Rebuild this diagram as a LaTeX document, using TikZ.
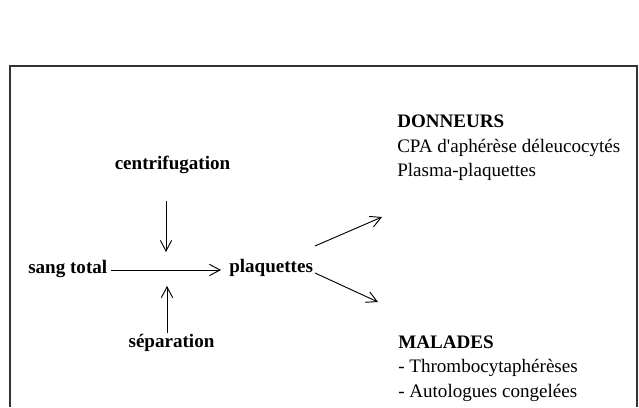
\documentclass[tikz,border=0pt]{standalone}
\usepackage{fontspec}
\setmainfont{Liberation Serif}
\usetikzlibrary{arrows.meta}
\begin{document}
\begin{tikzpicture}[x=0.75pt,y=-0.75pt,
  txt/.style={inner sep=0pt,font=\fontsize{14.3}{17}\selectfont},
  btxt/.style={txt,font=\fontsize{14.3}{17}\selectfont\bfseries},
  arr/.style={-{Straight Barb[length=8pt,width=8.5pt]},line width=0.7pt},
  frame/.style={line width=1.2pt,draw=black!80}]
\useasboundingbox (0,0) rectangle (639,407);
% frame (open at the bottom)
\coordinate (fbl) at (10,407);
\coordinate (ftl) at (10,66);
\coordinate (ftr) at (637,66);
\coordinate (fbr) at (637,407);
\draw[frame] (fbl) -- (ftl) -- (ftr) -- (fbr);
% left part
\node[btxt,anchor=base] (cen) at (172.5,169) {centrifugation};
\node[btxt,anchor=base west] (st) at (28,273) {sang total};
\node[btxt,anchor=base west] (pl) at (229,272) {plaquettes};
\node[btxt,anchor=base] (sep) at (171.5,347) {séparation};
\coordinate (dtop) at (166,201);
\coordinate (dtip) at (166,252);
\coordinate (ubot) at (167,333);
\coordinate (utip) at (167,286);
\draw[arr] (dtop) -- (dtip);
\draw[arr] (ubot) -- (utip);
\draw[arr,shorten <=3pt,shorten >=6pt] (st.east |- 0,270) -- (pl.west |- 0,270);
% diagonal arrows
\coordinate (a1s) at (315,246);
\coordinate (a1e) at (382,217);
\coordinate (a2s) at (315,273);
\coordinate (a2e) at (378,302);
\draw[arr] (a1s) -- (a1e);
\draw[arr] (a2s) -- (a2e);
% right part
\node[btxt,anchor=base west] (don) at (397,127) {DONNEURS};
\node[txt,anchor=base west] (cpa) at (397,152) {CPA d\textquotesingle aphérèse déleucocytés};
\node[txt,anchor=base west] (pp) at (397,176) {Plasma-plaquettes};
\node[btxt,anchor=base west] (mal) at (398,348) {MALADES};
\node[txt,anchor=base west] (thr) at (398,372) {- Thrombocytaphérèses};
\node[txt,anchor=base west] (aut) at (398,397) {- Autologues congelées};
\end{tikzpicture}
\end{document}
